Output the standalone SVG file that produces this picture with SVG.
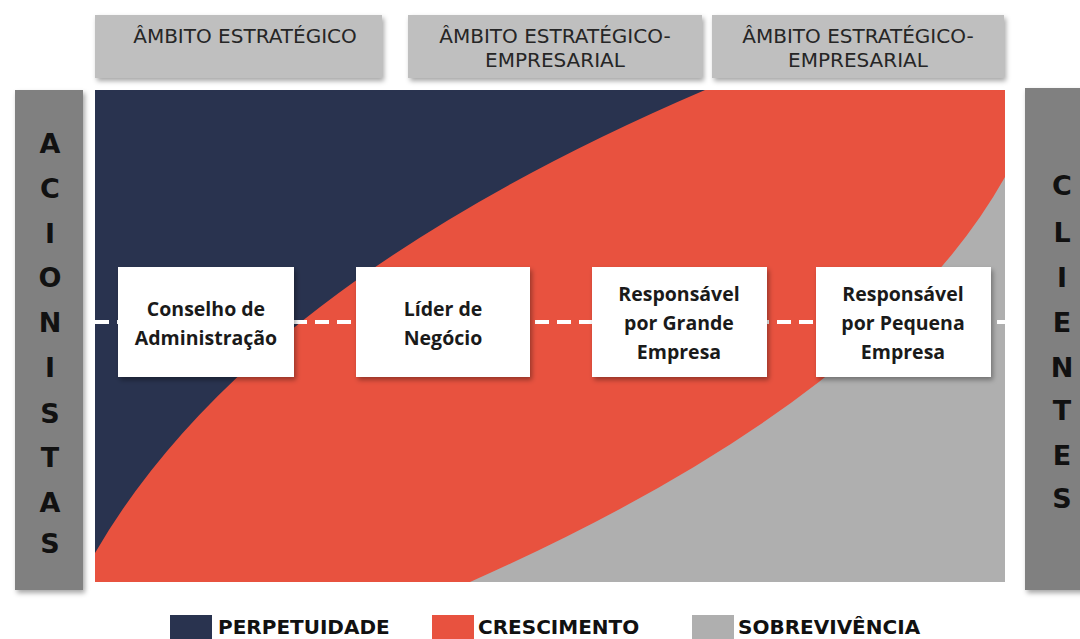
<svg xmlns="http://www.w3.org/2000/svg" width="1080" height="639" viewBox="0 0 1080 639">
<defs>
<filter id="sh" x="-10%" y="-10%" width="130%" height="130%">
<feDropShadow dx="2" dy="3" stdDeviation="2.5" flood-color="#000" flood-opacity="0.35"/>
</filter>
<style>
.hdr{fill:#bfbfbf;filter:url(#sh)}
.htx{font-family:"DejaVu Sans",Verdana,sans-serif;font-size:20px;fill:#262626;text-anchor:middle}
.bar{fill:#808080;filter:url(#sh)}
.ltr{font-family:"DejaVu Sans",Verdana,sans-serif;font-weight:bold;font-size:27px;fill:#111;text-anchor:middle}
.node{fill:#fff;filter:url(#sh)}
.ntx{font-family:"Open Sans","Noto Sans",sans-serif;font-weight:bold;font-size:19.5px;fill:#1a1a1a;text-anchor:middle}
.lg{font-family:"DejaVu Sans",Verdana,sans-serif;font-weight:bold;font-size:20px;fill:#111}
</style>
</defs>
<rect width="1080" height="639" fill="#fff"/>

<g id="headers">
<rect class="hdr" x="95" y="15" width="287" height="63"/>
<text class="htx" x="245" y="43">ÂMBITO ESTRATÉGICO</text>
<rect class="hdr" x="408" y="15" width="294" height="63"/>
<text class="htx" x="555" y="43">ÂMBITO ESTRATÉGICO-</text>
<text class="htx" x="555" y="67">EMPRESARIAL</text>
<rect class="hdr" x="712" y="15" width="292" height="63"/>
<text class="htx" x="858" y="43">ÂMBITO ESTRATÉGICO-</text>
<text class="htx" x="858" y="67">EMPRESARIAL</text>
</g>

<g id="regions">
<rect x="95" y="90" width="910" height="492" fill="#e8523f"/>
<path d="M95,90 L705,90 Q250,285 95,553 Z" fill="#29334f"/>
<path d="M470,582 Q880,400 1005,177 L1005,582 Z" fill="#afafaf"/>
</g>

<g id="acionistas">
<rect class="bar" x="15" y="90" width="68" height="500"/>
<text class="ltr" x="50" y="153">A</text>
<text class="ltr" x="50" y="198">C</text>
<text class="ltr" x="50" y="243">I</text>
<text class="ltr" x="50" y="287">O</text>
<text class="ltr" x="50" y="332">N</text>
<text class="ltr" x="50" y="377">I</text>
<text class="ltr" x="50" y="423">S</text>
<text class="ltr" x="50" y="467">T</text>
<text class="ltr" x="50" y="512">A</text>
<text class="ltr" x="50" y="553">S</text>
</g>

<g id="clientes">
<rect class="bar" x="1025" y="88" width="60" height="502"/>
<text class="ltr" x="1062" y="195">C</text>
<text class="ltr" x="1062" y="242">L</text>
<text class="ltr" x="1062" y="287">I</text>
<text class="ltr" x="1062" y="332">E</text>
<text class="ltr" x="1062" y="377">N</text>
<text class="ltr" x="1062" y="420">T</text>
<text class="ltr" x="1062" y="465">E</text>
<text class="ltr" x="1062" y="508">S</text>
</g>

<g id="connectors">
<line x1="95" y1="322" x2="1005" y2="322" stroke="#fff" stroke-width="4" stroke-dasharray="14 8"/>
</g>

<g id="node-conselho">
<rect class="node" x="118" y="267" width="176" height="110"/>
<text class="ntx" x="206" y="316">Conselho de</text>
<text class="ntx" x="206" y="345">Administração</text>
</g>
<g id="node-lider">
<rect class="node" x="356" y="267" width="174" height="110"/>
<text class="ntx" x="443" y="316">Líder de</text>
<text class="ntx" x="443" y="345">Negócio</text>
</g>
<g id="node-grande">
<rect class="node" x="592" y="267" width="175" height="110"/>
<text class="ntx" x="679" y="301">Responsável</text>
<text class="ntx" x="679" y="330">por Grande</text>
<text class="ntx" x="679" y="359">Empresa</text>
</g>
<g id="node-pequena">
<rect class="node" x="816" y="267" width="175" height="110"/>
<text class="ntx" x="903" y="301">Responsável</text>
<text class="ntx" x="903" y="330">por Pequena</text>
<text class="ntx" x="903" y="359">Empresa</text>
</g>

<g id="legend">
<rect x="170" y="615" width="42" height="24" fill="#29334f"/>
<text class="lg" x="218" y="634">PERPETUIDADE</text>
<rect x="432" y="615" width="42" height="24" fill="#e8523f"/>
<text class="lg" x="478" y="634">CRESCIMENTO</text>
<rect x="692" y="615" width="42" height="24" fill="#afafaf"/>
<text class="lg" x="738" y="634">SOBREVIVÊNCIA</text>
</g>
</svg>
